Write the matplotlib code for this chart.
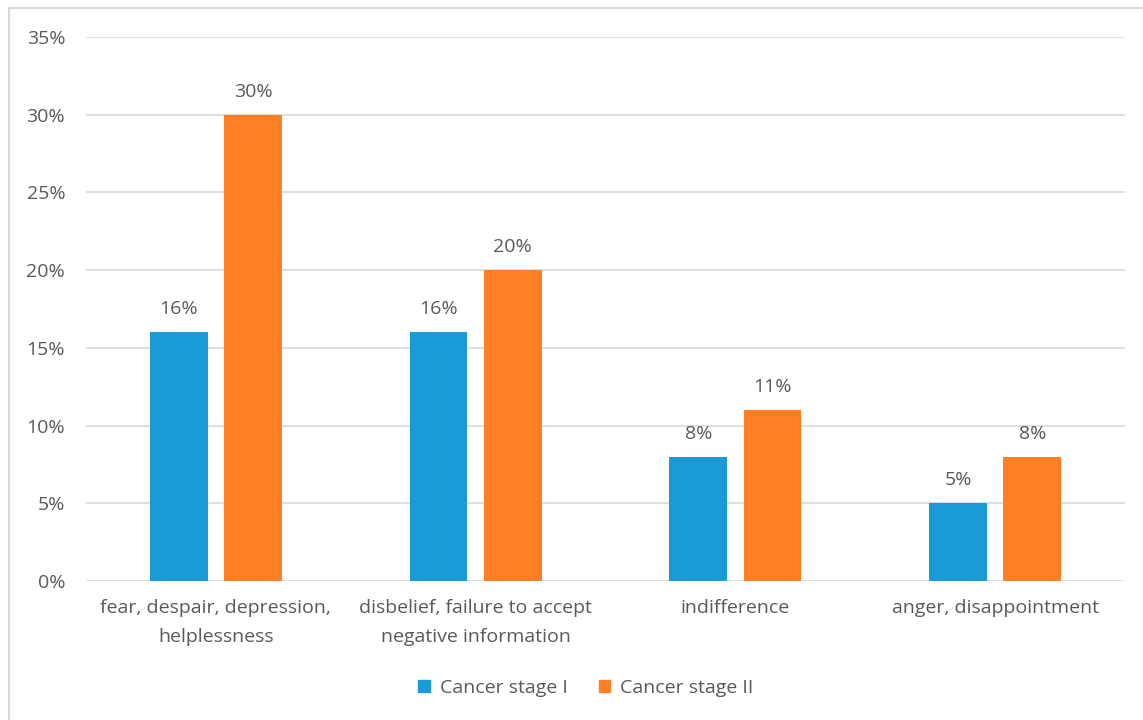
import matplotlib
matplotlib.use("Agg")
import matplotlib.pyplot as plt
import numpy as np
from matplotlib.patches import Rectangle

categories = [
    "fear, despair, depression,\nhelplessness",
    "disbelief, failure to accept\nnegative information",
    "indifference",
    "anger, disappointment",
]
series_names = ["Cancer stage I", "Cancer stage II"]
stage1 = [16, 16, 8, 5]
stage2 = [30, 20, 11, 8]
yticks = [0, 5, 10, 15, 20, 25, 30, 35]

colors = ["#1A9AD6", "#FF7F24"]
text_color = "#595959"
grid_color = "#D9D9D9"
fs = 14

plt.rcParams["font.family"] = ["Open Sans", "DejaVu Sans"]

fig = plt.figure(figsize=(11.43, 7.2), dpi=100)
ax = fig.add_axes([86 / 1143, 1 - 581 / 720, (1125 - 86) / 1143, (581 - 37) / 720])

x = np.arange(len(categories))
width = 0.222
offset = 0.143
for vals, off, col in [(stage1, -offset, colors[0]), (stage2, offset, colors[1])]:
    bars = ax.bar(x + off, vals, width, color=col, zorder=3)
    for b, v in zip(bars, vals):
        ax.annotate(f"{v}%", (b.get_x() + b.get_width() / 2, v),
                    xytext=(0, 10), textcoords="offset points",
                    ha="center", va="bottom", fontsize=fs, color=text_color)

ax.set_xlim(-0.5, len(categories) - 0.5)
ax.set_ylim(0, 35)
ax.set_yticks(yticks)
ax.set_yticklabels([f"{t}%" for t in yticks], fontsize=fs, color=text_color)
ax.set_xticks(x)
ax.set_xticklabels(categories, fontsize=fs, color=text_color, linespacing=1.75)
ax.tick_params(length=0)
ax.tick_params(axis="y", pad=15)
ax.tick_params(axis="x", pad=13)
ax.yaxis.grid(True, color=grid_color, linewidth=1.2, zorder=0)
for s in ax.spines.values():
    s.set_visible(False)

# legend
handles = [Rectangle((0, 0), 1, 1, color=c) for c in colors]
fig.legend(handles, series_names, loc="center", bbox_to_anchor=(586 / 1143, 1 - 688 / 720),
           ncol=2, frameon=False, fontsize=fs, labelcolor=text_color,
           handlelength=0.6, handleheight=0.6, handletextpad=0.5, columnspacing=1.6)

# chart frame
fig.add_artist(Rectangle((9 / 1143, -0.01), 1.2, 1 - 8 / 720 + 0.01, transform=fig.transFigure,
                         fill=False, edgecolor="#D9D9D9", linewidth=1.5))

fig.savefig("out.png", dpi=100, facecolor="white")
